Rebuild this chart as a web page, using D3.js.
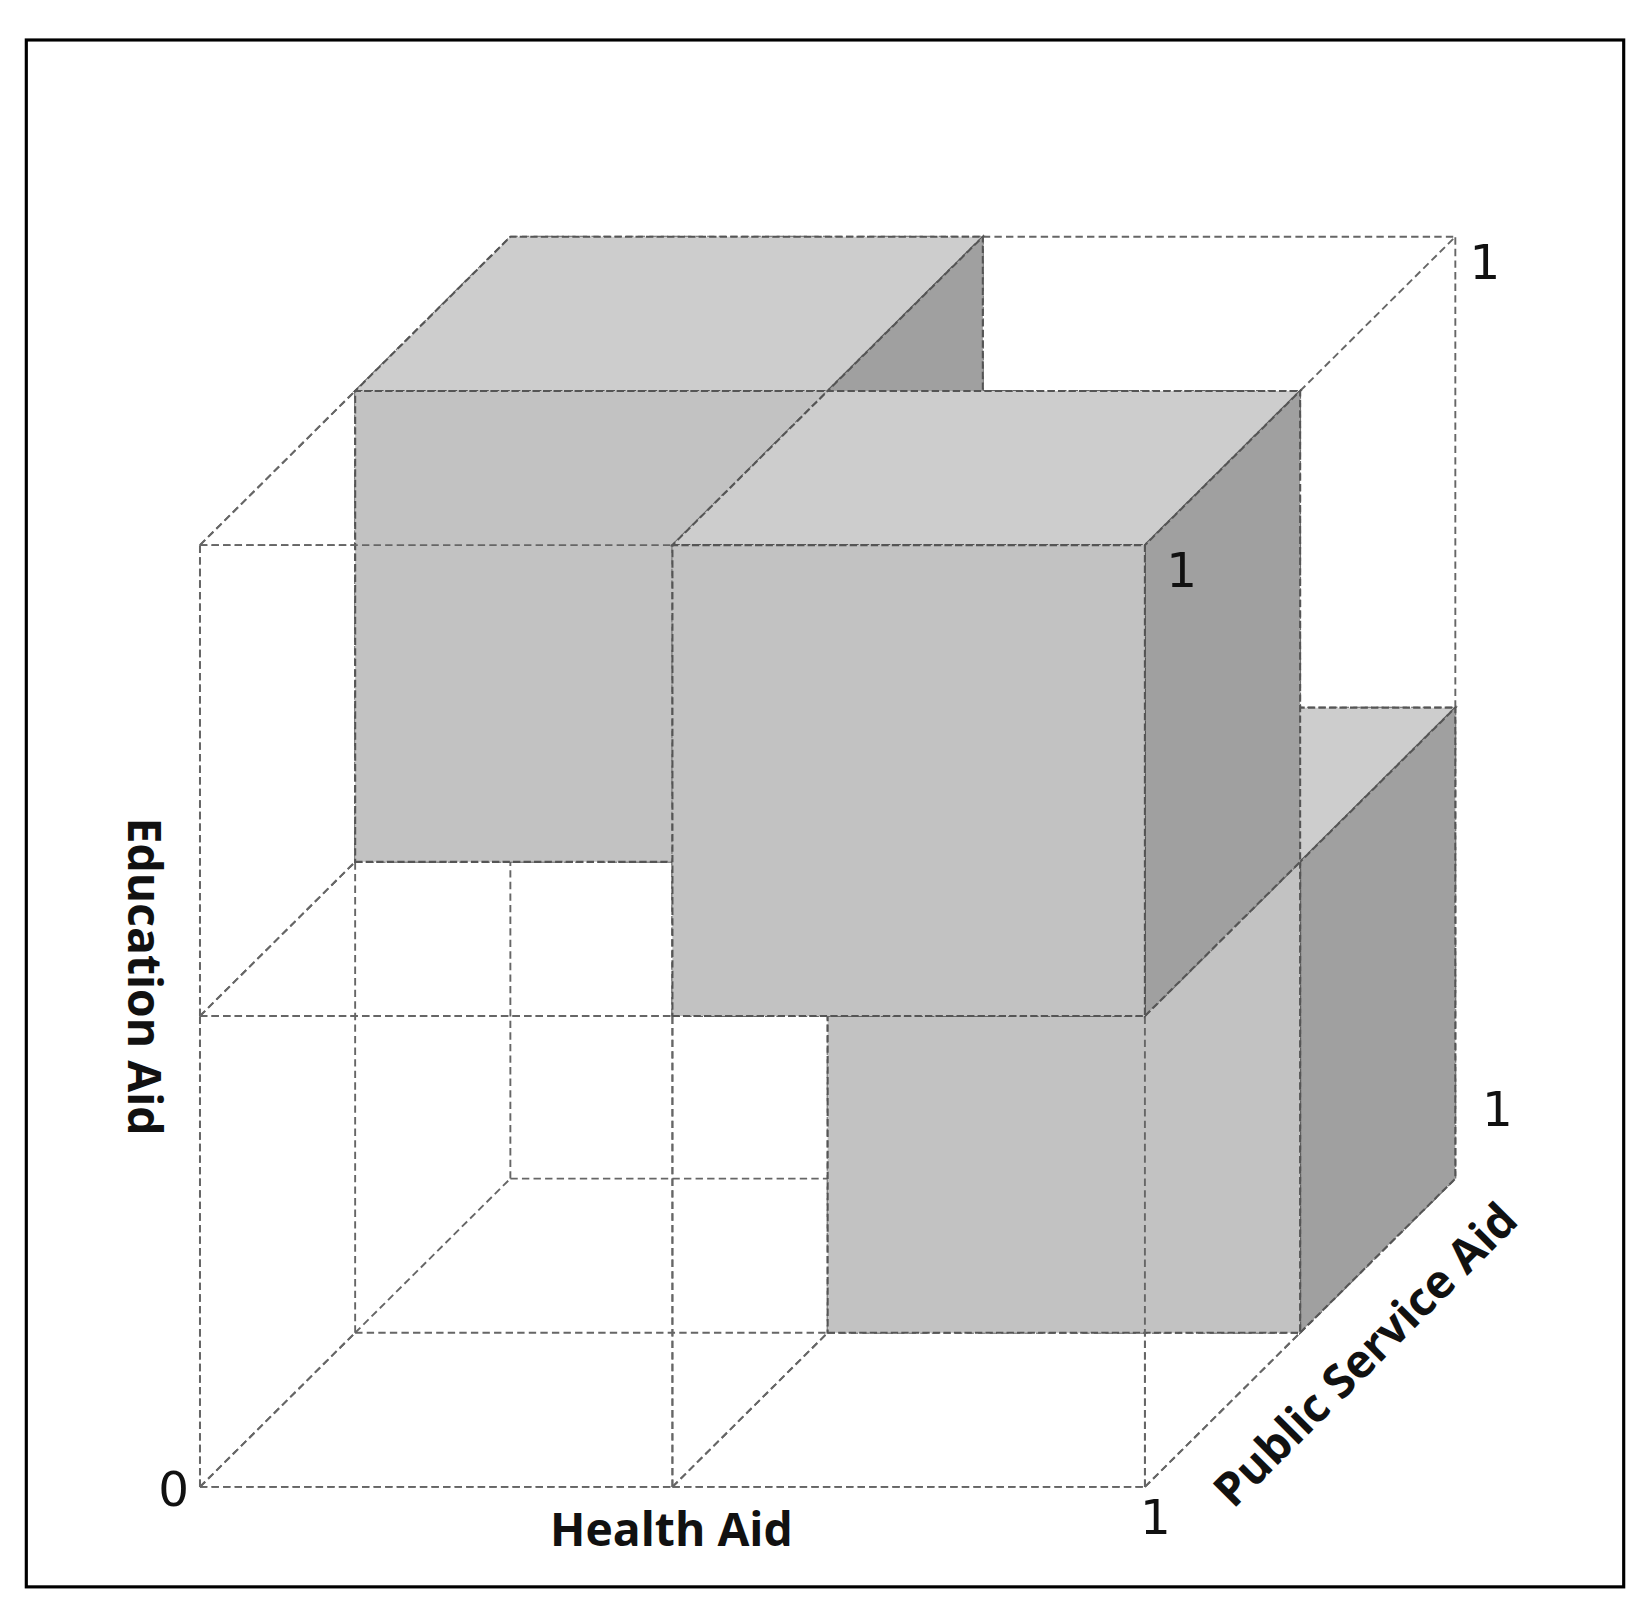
<!DOCTYPE html><html><head><meta charset="utf-8">
<script src="https://cdn.jsdelivr.net/npm/d3@7"></script>
<style>body{margin:0;background:#fff}</style></head><body>
<svg id="c" width="1650" height="1624"></svg>
<script>
const axisNames=["Health Aid","Education Aid","Public Service Aid"];
// filled octants: [h0,h1],[e0,e1],[p0,p1]
const backCubes=[[[0,0.5],[0.5,1],[0.5,1]],[[0.5,1],[0,0.5],[0.5,1]]];
const frontCubes=[[[0.5,1],[0.5,1],[0,0.5]]];
const gridVals=[0,0.5,1];
const tickLabels=["0","1","1","1","1"];

const root=d3.select("#c");
const svg=root.append("g").attr("transform","scale(1.0523)");
const hX=d3.scaleLinear().domain([0,1]).range([190,1088]);
const eY=d3.scaleLinear().domain([0,1]).range([1413,518]);
const pX=d3.scaleLinear().domain([0,1]).range([0,295]);
const pY=d3.scaleLinear().domain([0,1]).range([0,-293]);
const P=(h,e,p)=>[hX(h)+pX(p),eY(e)+pY(p)];

svg.append("rect").attr("x",25).attr("y",38).attr("width",1518).attr("height",1470)
 .attr("fill","#fff").attr("stroke","#000").attr("stroke-width",3);

const line=d3.line();
function dashed(g,a,b){g.append("path").attr("d",line([a,b])).attr("fill","none")
 .attr("stroke","#666").attr("stroke-width",1.8).attr("stroke-dasharray","7,4");}
function segments(filter){const s=[];
 for(const a of gridVals)for(const b of gridVals)for(let i=0;i<2;i++){
  const t0=gridVals[i],t1=gridVals[i+1];
  s.push([[t0,a,b],[t1,a,b]],[[a,t0,b],[a,t1,b]],[[a,b,t0],[a,b,t1]]);}
 return s.filter(filter);}
function drawSegs(list){const g=svg.append("g");list.forEach(s=>dashed(g,P(...s[0]),P(...s[1])));}
function cube(c){const [[h0,h1],[e0,e1],[p0,p1]]=c;const g=svg.append("g");
 const faces=[
  {pts:[P(h0,e1,p0),P(h1,e1,p0),P(h1,e1,p1),P(h0,e1,p1)],f:"#cdcdcd"},
  {pts:[P(h1,e0,p0),P(h1,e0,p1),P(h1,e1,p1),P(h1,e1,p0)],f:"#a0a0a0"},
  {pts:[P(h0,e0,p0),P(h1,e0,p0),P(h1,e1,p0),P(h0,e1,p0)],f:"#c2c2c2"}];
 faces.forEach(fc=>g.append("path").attr("d",line(fc.pts)+"Z").attr("fill",fc.f)
  .attr("stroke","#555").attr("stroke-width",2).attr("stroke-dasharray","7,3"));}

drawSegs(segments(()=>true));
backCubes.forEach(cube);
drawSegs(segments(s=>s[0][2]<0.5&&s[1][2]<=0.5));
frontCubes.forEach(cube);

const lab=[[tickLabels[0],P(0,0,0),-25,18],[tickLabels[1],P(1,0,0),10,45],[tickLabels[2],P(1,1,1),28,40],
 [tickLabels[3],P(1,1,0),35,40],[tickLabels[4],P(1,0,1),40,-50]];
lab.forEach(([t,[x,y],dx,dy])=>svg.append("text").attr("x",x+dx).attr("y",y+dy)
 .attr("text-anchor","middle").attr("font-family","DejaVu Sans").attr("font-size",46).attr("fill","#111").text(t));
const tf={"font-family":"Open Sans","font-size":44,"font-weight":"bold","fill":"#111"};
function T(t,x,y,r){const e=svg.append("text").attr("transform",`translate(${x},${y}) rotate(${r})`)
 .attr("text-anchor","middle").attr("dominant-baseline","middle").text(t);
 for(const k in tf)e.attr(k,tf[k]);}
T(axisNames[0],638,1457,0);
T(axisNames[1],133,928,90);
T(axisNames[2],1300,1290,-45);
</script></body></html>
